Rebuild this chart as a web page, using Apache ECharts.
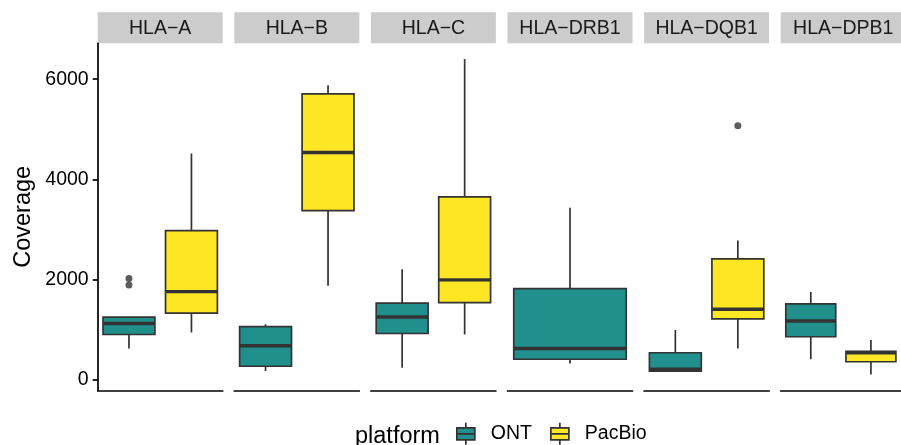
<!DOCTYPE html>
<html>
<head>
<meta charset="utf-8">
<script src="https://cdn.jsdelivr.net/npm/echarts@6/dist/echarts.min.js"></script>
<style>
  html, body { margin: 0; padding: 0; background: #fff; }
  #chart { width: 901px; height: 445px; }
</style>
</head>
<body>
<div id="chart"></div>
<script>
const genes = ['HLA−A', 'HLA−B', 'HLA−C', 'HLA−DRB1', 'HLA−DQB1', 'HLA−DPB1']
const platforms = ['ONT', 'PacBio']

// [lower whisker, Q1, median, Q3, upper whisker]
const ontStats = [
  [620, 900, 1120, 1245, 1245],
  [170, 265, 675, 1055, 1105],
  [235, 920, 1250, 1525, 2205],
  [320, 405, 620, 1815, 3430],
  [150, 170, 205, 535, 990],
  [405, 855, 1170, 1510, 1750]
]
const pacbioStats = [
  [940, 1325, 1755, 2975, 4515],
  [1875, 3375, 4535, 5705, 5880],
  [900, 1535, 1990, 3650, 6400],
  null,
  [620, 1210, 1405, 2410, 2775],
  [100, 355, 535, 565, 790]
]
const ontOutliers = [[1890, 2020], [], [], [], [], []]
const pacbioOutliers = [[], [], [], [], [5070], []]

const yTicks = [0, 2000, 4000, 6000]
const yMin = -215
const yMax = 6716

const COLORS = { ONT: '#21908C', PacBio: '#FDE725' }
const LINE_COLOR = '#333333'
const FONT = "'Liberation Sans', Arial, Helvetica, sans-serif"

const PANEL_LEFT = 97.7
const PANEL_STEP = 136.6
const PANEL_W = 125
const PANEL_TOP = 43.3
const PANEL_BOTTOM = 390.3
const STRIP_TOP = 12.3

const statsByPlatform = { ONT: ontStats, PacBio: pacbioStats }
const outliersByPlatform = { ONT: ontOutliers, PacBio: pacbioOutliers }

function panelPlatforms(i) {
  return platforms.filter((p) => statsByPlatform[p][i])
}

function makeBoxRenderer(frac) {
  return function (params, api) {
    const cat = api.value(0)
    const low = api.value(1)
    const q1 = api.value(2)
    const med = api.value(3)
    const q3 = api.value(4)
    const high = api.value(5)
    const cx = api.coord([cat, med])[0]
    const y = (v) => api.coord([cat, v])[1]
    const w = api.size([1, 0])[0] * frac
    const color = api.visual('color')
    const lineStyle = { stroke: LINE_COLOR, lineWidth: 1.7 }
    return {
      type: 'group',
      children: [
        { type: 'line', shape: { x1: cx, y1: y(q3), x2: cx, y2: y(high) }, style: lineStyle },
        { type: 'line', shape: { x1: cx, y1: y(q1), x2: cx, y2: y(low) }, style: lineStyle },
        {
          type: 'rect',
          shape: { x: cx - w / 2, y: y(q3), width: w, height: y(q1) - y(q3) },
          style: { fill: color, stroke: LINE_COLOR, lineWidth: 1.7 }
        },
        {
          type: 'line',
          shape: { x1: cx - w / 2, y1: y(med), x2: cx + w / 2, y2: y(med) },
          style: { stroke: LINE_COLOR, lineWidth: 3.4 }
        }
      ]
    }
  }
}

const grids = []
const xAxes = []
const yAxes = []
const series = []
const graphics = []

genes.forEach((gene, i) => {
  const left = PANEL_LEFT + i * PANEL_STEP
  const cats = panelPlatforms(i)
  grids.push({ left, top: PANEL_TOP, width: PANEL_W, height: PANEL_BOTTOM - PANEL_TOP })
  xAxes.push({
    gridIndex: i,
    type: 'category',
    data: cats,
    boundaryGap: true,
    axisLine: { show: true, onZero: false, lineStyle: { color: '#000', width: 1.7 } },
    axisTick: { show: false },
    axisLabel: { show: false },
    splitLine: { show: false }
  })
  yAxes.push({
    gridIndex: i,
    type: 'value',
    min: yMin,
    max: yMax,
    name: i === 0 ? 'Coverage' : '',
    nameLocation: 'middle',
    nameGap: 62,
    nameTextStyle: { fontSize: 23.5, color: '#000', fontFamily: FONT },
    axisLine: { show: i === 0, lineStyle: { color: '#000', width: 1.7 } },
    axisTick: { show: i === 0, length: 5, lineStyle: { color: '#000', width: 1.7 }, customValues: yTicks },
    axisLabel: {
      show: i === 0,
      margin: 9,
      fontSize: 19.5,
      color: '#000',
      fontFamily: FONT,
      customValues: yTicks,
      formatter: (v) => String(v)
    },
    splitLine: { show: false }
  })

  const frac = cats.length === 1 ? 0.9 : 0.83
  cats.forEach((p, ci) => {
    series.push({
      type: 'custom',
      name: p,
      xAxisIndex: i,
      yAxisIndex: i,
      itemStyle: { color: COLORS[p] },
      renderItem: makeBoxRenderer(frac),
      data: [[ci, ...statsByPlatform[p][i]]]
    })
    const outs = outliersByPlatform[p][i]
    if (outs.length) {
      series.push({
        type: 'scatter',
        name: p + ' outliers',
        xAxisIndex: i,
        yAxisIndex: i,
        symbolSize: 7,
        itemStyle: { color: LINE_COLOR },
        data: outs.map((v) => [ci, v])
      })
    }
  })

  // facet strip
  graphics.push({
    type: 'rect',
    left,
    top: STRIP_TOP,
    shape: { width: PANEL_W, height: PANEL_TOP - STRIP_TOP },
    style: { fill: '#CCCCCC' }
  })
  graphics.push({
    type: 'text',
    x: left + PANEL_W / 2,
    y: (STRIP_TOP + PANEL_TOP) / 2 + 1,
    style: {
      text: gene,
      fontSize: 19.5,
      fontFamily: FONT,
      fill: '#1a1a1a',
      align: 'center',
      verticalAlign: 'middle'
    }
  })
})

const legendIcon = 'path://M10,0L10,5M1,5L19,5L19,17L1,17ZM1,11L19,11M10,17L10,22'

const chart = echarts.init(document.getElementById('chart'), null, { renderer: 'canvas' })
chart.setOption({
  animation: false,
  backgroundColor: '#fff',
  title: {
    text: 'platform',
    left: 355,
    top: 425,
    padding: 0,
    textStyle: { fontSize: 23.5, fontWeight: 'normal', color: '#000', fontFamily: FONT }
  },
  legend: {
    left: 456,
    top: 422,
    padding: 0,
    itemWidth: 20,
    itemHeight: 22,
    itemGap: 18,
    data: platforms.map((p) => ({ name: p, icon: legendIcon })),
    itemStyle: { borderColor: LINE_COLOR, borderWidth: 1.7 },
    textStyle: { fontSize: 19.5, color: '#000', fontFamily: FONT, padding: [0, 0, 0, 10] }
  },
  grid: grids,
  xAxis: xAxes,
  yAxis: yAxes,
  series,
  graphic: graphics
})
</script>
</body>
</html>
